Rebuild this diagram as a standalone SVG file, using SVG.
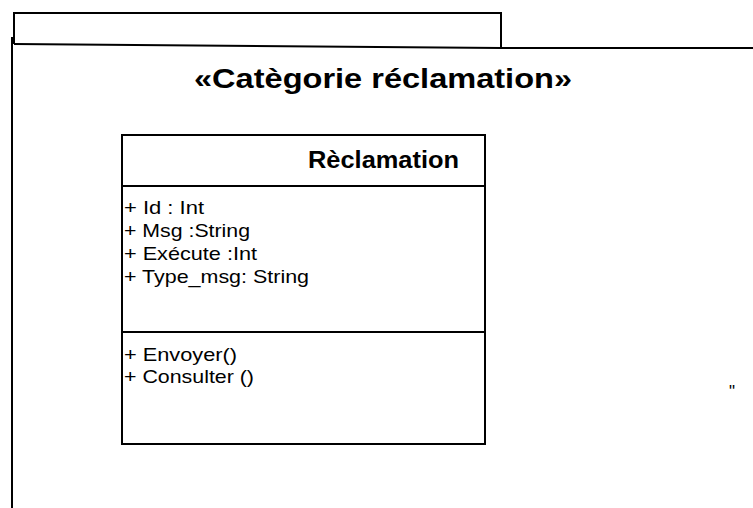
<svg xmlns="http://www.w3.org/2000/svg" width="753" height="508" viewBox="0 0 753 508">
  <style>
    .ln { fill: none; stroke: #000; stroke-width: 2; }
    .box { fill: #fff; stroke: #000; stroke-width: 2; }
    .t { font-family: "Liberation Sans", Arial, sans-serif; fill: #000; }
    .b { font-weight: bold; }
    .m { font-size: 18.5px; }
  </style>
  <rect width="753" height="508" fill="#fff"/>

  <!-- package frame with tab -->
  <g id="package">
    <polyline class="ln" points="14,44 14,13 501,13 501,48"/>
    <polyline class="ln" points="14,44 501,48 753,48"/>
    <line class="ln" x1="12" y1="37" x2="12" y2="508"/>
    <text class="t b" x="194" y="88" font-size="28.5" textLength="378" lengthAdjust="spacingAndGlyphs">«Catègorie réclamation»</text>
  </g>

  <!-- class Rèclamation -->
  <g id="reclamation">
    <rect class="box" x="122" y="135" width="363" height="309"/>
    <line class="ln" x1="122" y1="186" x2="485" y2="186" stroke-width="3"/>
    <line class="ln" x1="122" y1="332" x2="485" y2="332" stroke-width="3"/>
    <text class="t b" x="308" y="168" font-size="23" textLength="151" lengthAdjust="spacingAndGlyphs">Rèclamation</text>
    <text class="t m" x="124" y="214" textLength="80" lengthAdjust="spacingAndGlyphs">+ Id : Int</text>
    <text class="t m" x="124" y="237" textLength="126" lengthAdjust="spacingAndGlyphs">+ Msg :String</text>
    <text class="t m" x="124" y="260" textLength="133" lengthAdjust="spacingAndGlyphs">+ Exécute :Int</text>
    <text class="t m" x="124" y="283" textLength="185" lengthAdjust="spacingAndGlyphs">+ Type_msg: String</text>
    <text class="t m" x="124" y="361" textLength="113" lengthAdjust="spacingAndGlyphs">+ Envoyer()</text>
    <text class="t m" x="124" y="383" textLength="130" lengthAdjust="spacingAndGlyphs">+ Consulter ()</text>
  </g>

  <text class="t" x="729" y="397" font-size="17">"</text>
</svg>
